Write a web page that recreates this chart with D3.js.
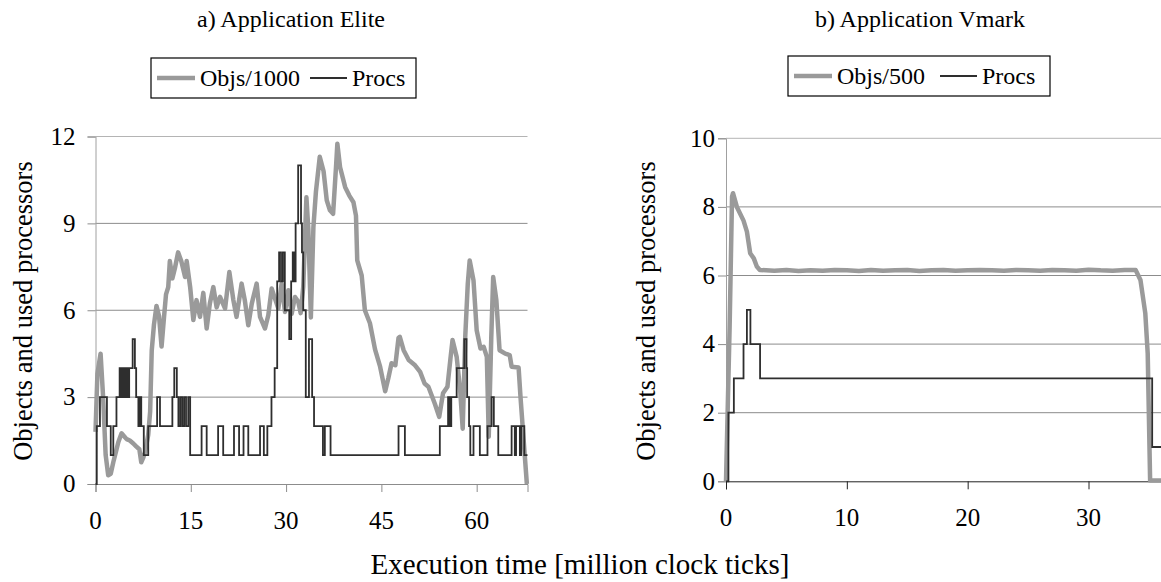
<!DOCTYPE html>
<html>
<head>
<meta charset="utf-8">
<script src="https://cdn.jsdelivr.net/npm/d3@7/dist/d3.min.js"></script>
<style>
body { margin: 0; background: #fff; }
</style>
</head>
<body>
<svg width="1161" height="582"></svg>
<script>
'use strict';

// a) Elite : time in million ticks, objects/1000, processors
var eliteObjsT = [0, 0.3, 0.8, 1.2, 1.6, 2.0, 2.4, 2.8, 3.2, 3.6, 4.1, 4.5, 4.9, 5.4, 5.95, 6.4, 6.9, 7.2, 7.5, 7.8,
	8.3, 8.6, 8.85, 9.2, 9.6, 10.0, 10.4, 10.8, 11.1, 11.45, 11.7, 12.1, 12.5, 13.0, 13.5, 14.1, 14.35, 14.9,
	15.4, 15.9, 16.45, 16.97, 17.5, 18.0, 18.55, 19.07, 19.6, 20.4, 21.07, 21.7, 22.2, 23.0, 23.5, 24.05, 24.6,
	25.37, 25.9, 26.68, 27.2, 27.73, 28.25, 28.78, 29.3, 29.83, 30.35, 30.88, 31.4, 31.9, 32.3, 32.7, 33.2, 33.5,
	33.9, 34.3, 34.7, 35.3, 35.9, 36.4, 36.9, 37.4, 37.9, 38.07, 38.5, 39.3, 39.95, 40.6, 41.0, 41.2, 41.9, 42.4,
	43.2, 44.0, 44.8, 45.6, 46.1, 46.6, 47.2, 47.7, 47.9, 48.5, 49.3, 50.3, 51.1, 51.8, 52.4, 53.4, 54.1, 54.7,
	55.4, 55.9, 56.2, 56.85, 57.4, 57.8, 58.2, 58.6, 58.9, 59.5, 60.0, 60.6, 61.1, 61.6, 61.9, 62.3, 62.6, 63.1,
	63.6, 64.5, 65.2, 65.5, 66.6, 66.9, 67.9];
var eliteObjsV = [1.8, 3.8, 4.5, 3.0, 1.0, 0.3, 0.35, 0.75, 1.1, 1.45, 1.75, 1.65, 1.55, 1.5, 1.4, 1.3, 1.2, 0.75, 0.9, 1.1,
	1.7, 2.5, 4.6, 5.5, 6.15, 5.8, 4.75, 5.8, 6.55, 6.8, 7.7, 7.1, 7.45, 8.0, 7.7, 7.15, 7.7, 6.8,
	5.66, 6.35, 5.77, 6.6, 5.37, 6.23, 6.8, 6.1, 6.46, 6.06, 7.32, 6.35, 5.77, 6.92, 6.35, 5.48, 6.23,
	6.92, 5.77, 5.37, 5.83, 6.75, 6.4, 6.06, 6.92, 5.94, 6.69, 5.88, 6.46, 6.3, 5.9, 6.8, 9.9, 8.8,
	5.75, 8.87, 10.1, 11.3, 10.8, 9.8, 9.45, 9.33, 11.1, 11.75, 10.94, 10.25, 9.96, 9.73, 9.27, 7.72, 7.2, 6.0,
	5.55, 4.65, 4.05, 3.2, 3.66, 4.17, 4.1, 5.05, 5.08, 4.62, 4.28, 4.1, 3.87, 3.47, 3.36, 2.78, 2.32, 3.13,
	3.36, 4.39, 4.97, 4.39, 3.24, 1.91, 5.08, 6.92, 7.72, 7.03, 5.31, 4.68, 4.74, 4.39, 1.63, 5.08, 7.15, 6.34,
	4.62, 4.5, 4.45, 4.05, 4.02, 3.0, 0];

var eliteProcsT = [0, 0.2, 0.7, 1.8, 2.4, 2.8, 3.3, 3.8, 4.05, 4.3, 4.55, 4.8, 5.05, 5.3, 5.85, 6.2, 6.4,
	6.75, 6.95, 7.2, 7.6, 8.3, 9.7, 10.15, 12.1, 12.4, 12.8, 13.05, 13.35, 13.65, 13.95, 14.25, 14.6,
	14.9, 16.7, 17.5, 19.3, 20.1, 21.8, 22.6, 23.3, 24.05, 25.9, 26.5, 27.05, 27.7, 28.2, 28.6, 28.9, 29.2,
	29.5, 29.8, 30.5, 30.8, 31.05, 31.3, 31.5, 31.9, 32.35, 32.5, 32.7, 33.1, 33.6, 34.1, 34.4, 35.8,
	36.1, 37.0, 47.7, 48.7, 54.2, 55.5, 55.75, 56.0, 56.85, 58.05, 58.4, 58.5, 58.8, 59.0, 59.5, 60.5, 61.7,
	62.35, 62.7, 63.4, 65.5, 66.0, 66.2, 66.8, 67.0, 67.5, 68];
var eliteProcsV = [0, 2, 3, 2, 1, 2, 3, 4, 3, 4, 3, 4, 3, 4, 5, 4, 3,
	2, 3, 2, 1, 2, 3, 2, 3, 4, 3, 2, 3, 2, 3, 2, 3,
	1, 2, 1, 2, 1, 2, 1, 2, 1, 2, 1, 2, 3, 4, 7, 8, 7,
	8, 6, 5, 7, 8, 7, 9, 11, 9, 8, 6, 3, 5, 3, 2, 1,
	2, 1, 2, 1, 2, 3, 2, 3, 4, 5, 4, 3, 2, 1, 2, 1, 2,
	3, 2, 1, 2, 1, 2, 1, 2, 1, 1];

// b) Vmark : objects/500, processors
var vmarkObjsT = [0, 0.3, 0.5, 0.58, 0.9, 1.45, 1.73, 2.0, 2.3, 2.55, 2.8, 4, 5, 6, 7, 8, 9, 10, 11, 12, 13, 14,
	15, 16, 17, 18, 19, 20, 21, 22, 23, 24, 25, 26, 27, 28, 29, 30, 31, 32, 33, 33.9, 34.3, 34.7, 34.9, 35.1, 36];
var vmarkObjsV = [0, 4.5, 8.3, 8.4, 8.0, 7.6, 7.28, 6.65, 6.5, 6.26, 6.16, 6.14, 6.16, 6.13, 6.15, 6.14, 6.16,
	6.15, 6.13, 6.16, 6.14, 6.15, 6.16, 6.13, 6.15, 6.16, 6.14, 6.15, 6.16, 6.15, 6.14, 6.16, 6.15, 6.14,
	6.16, 6.15, 6.14, 6.17, 6.15, 6.14, 6.16, 6.16, 5.87, 4.9, 3.73, 0.02, 0.02];
var vmarkProcsT = [0, 0.2, 0.65, 1.45, 1.73, 2.02, 2.82, 35.27, 36];
var vmarkProcsV = [0, 2, 3, 4, 5, 4, 3, 1, 1];

var eliteXTicks = [0, 15, 30, 45, 60];
var eliteYTicks = [0, 3, 6, 9, 12];
var vmarkXTicks = [0, 10, 20, 30];
var vmarkYTicks = [0, 2, 4, 6, 8, 10];

var objsColor = '#9a9a9a';
var procsColor = '#2e2e2e';
var gridColor = '#8c8c8c';
var serif = 'Liberation Serif, Times New Roman, serif';

var svg = d3.select('svg').attr('font-family', serif);

function panel(p){
	var x = d3.scaleLinear().domain([0, p.xMax]).range([p.left, p.right]);
	var y = d3.scaleLinear().domain([0, p.yMax]).range([p.bottom, p.top]);
	var g = svg.append('g');

	g.selectAll('line.grid')
		.data(p.yTicks.filter(function(d){ return d > 0; }))
		.enter().append('line')
		.attr('class', 'grid')
		.attr('x1', p.left).attr('x2', p.right)
		.attr('y1', function(d){ return y(d); })
		.attr('y2', function(d){ return y(d); })
		.attr('stroke', function(d){ return d == p.yMax ? '#b4b4b4' : gridColor; })
		.attr('stroke-width', 1);

	// axis lines and tick marks from d3, labels placed as plain text below
	var ya = g.append('g')
		.attr('transform', 'translate(' + p.left + ',0)')
		.call(d3.axisLeft(y).tickValues(p.yTicks).tickSizeOuter(0).tickSize(8).tickFormat(''));
	ya.select('.domain').attr('stroke', '#a0a0a0');
	ya.selectAll('.tick line').attr('stroke', gridColor);

	var xa = g.append('g')
		.attr('transform', 'translate(0,' + p.bottom + ')')
		.call(d3.axisBottom(x).tickValues(p.xTicks).tickSizeOuter(0).tickSize(8).tickFormat(''));
	xa.select('.domain').attr('stroke', p.xAxisColor);
	xa.selectAll('.tick line').attr('stroke', p.xAxisColor);

	g.selectAll('text.ylab')
		.data(p.yTicks).enter().append('text')
		.attr('class', 'ylab')
		.attr('x', p.left - 8 - p.yPad)
		.attr('y', function(d){ return y(d); })
		.attr('dy', '0.33em')
		.attr('text-anchor', 'end')
		.attr('font-size', 25)
		.text(function(d){ return d; });

	g.selectAll('text.xlab')
		.data(p.xTicks).enter().append('text')
		.attr('class', 'xlab')
		.attr('x', function(d){ return x(d); })
		.attr('y', p.bottom + 45)
		.attr('text-anchor', 'middle')
		.attr('font-size', 25)
		.text(function(d){ return d; });

	var line = d3.line()
		.x(function(d){ return x(d[0]); })
		.y(function(d){ return y(d[1]); });

	g.append('path')
		.datum(d3.zip(p.objsT, p.objsV))
		.attr('d', line)
		.attr('fill', 'none')
		.attr('stroke', objsColor)
		.attr('stroke-width', 4.5)
		.attr('stroke-linejoin', 'round');

	g.append('path')
		.datum(d3.zip(p.procsT, p.procsV))
		.attr('d', line.curve(d3.curveStepAfter))
		.attr('fill', 'none')
		.attr('stroke', procsColor)
		.attr('stroke-width', 1.8);

	g.append('text')
		.attr('x', p.titleX).attr('y', 27)
		.attr('text-anchor', 'middle')
		.attr('font-size', 24)
		.text(p.title);

	g.append('text')
		.attr('transform', 'translate(' + p.yTitleX + ',311) rotate(-90)')
		.attr('text-anchor', 'middle')
		.attr('dy', '0.35em')
		.attr('font-size', 26.5)
		.text('Objects and used processors');

	// legend
	var L = p.legend;
	var cy = L.y + L.h / 2;
	g.append('rect')
		.attr('x', L.x).attr('y', L.y).attr('width', L.w).attr('height', L.h)
		.attr('fill', '#fff').attr('stroke', '#000').attr('stroke-width', 1.2);
	g.append('line')
		.attr('x1', L.x + 6).attr('x2', L.x + 44).attr('y1', cy).attr('y2', cy)
		.attr('stroke', objsColor).attr('stroke-width', 4.5);
	g.append('text')
		.attr('x', L.x + 49).attr('y', cy).attr('dy', '0.35em')
		.attr('font-size', 24)
		.text(p.objsName);
	g.append('line')
		.attr('x1', L.px).attr('x2', L.px + 37).attr('y1', cy).attr('y2', cy)
		.attr('stroke', procsColor).attr('stroke-width', 2);
	g.append('text')
		.attr('x', L.px + 42).attr('y', cy).attr('dy', '0.35em')
		.attr('font-size', 24)
		.text('Procs');
}

panel({
	left: 95.5, right: 527.5, top: 136.5, bottom: 484,
	xMax: 68, yMax: 12, xTicks: eliteXTicks, yTicks: eliteYTicks, yPad: 12,
	xAxisColor: gridColor,
	objsT: eliteObjsT, objsV: eliteObjsV, procsT: eliteProcsT, procsV: eliteProcsV,
	title: 'a) Application Elite', titleX: 291, yTitleX: 23,
	objsName: 'Objs/1000', legend: {x: 151, y: 58, w: 265, h: 40, px: 310}
});

panel({
	left: 726, right: 1161, top: 138.3, bottom: 481.3,
	xMax: 36, yMax: 10, xTicks: vmarkXTicks, yTicks: vmarkYTicks, yPad: 3,
	xAxisColor: '#222',
	objsT: vmarkObjsT, objsV: vmarkObjsV, procsT: vmarkProcsT, procsV: vmarkProcsV,
	title: 'b) Application Vmark', titleX: 920, yTitleX: 646,
	objsName: 'Objs/500', legend: {x: 788, y: 56, w: 262, h: 40, px: 940}
});

svg.append('text')
	.attr('x', 580).attr('y', 574)
	.attr('text-anchor', 'middle')
	.attr('font-size', 29)
	.text('Execution time [million clock ticks]');
</script>
</body>
</html>
